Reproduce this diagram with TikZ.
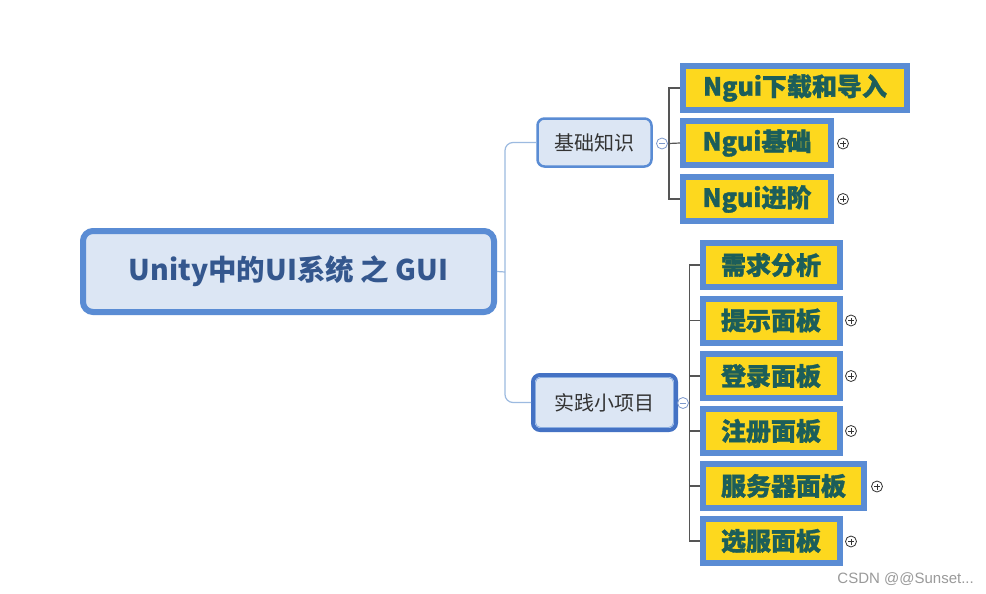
\documentclass[tikz,border=0pt]{standalone}
\usepackage{fontspec}
\newfontfamily\cjk{Noto Sans CJK SC}
\newfontfamily\cjkheavy{Noto Sans CJK SC}[BoldFeatures={FakeBold=1.3}]
\newfontfamily\wm{Liberation Sans}
\definecolor{rootfill}{HTML}{DCE6F4}
\definecolor{bdblue}{HTML}{5A8CD4}
\definecolor{dkblue}{HTML}{4472C4}
\definecolor{roottext}{HTML}{34578E}
\definecolor{darktext}{HTML}{333333}
\definecolor{leafyellow}{HTML}{FDD81E}
\definecolor{leaftext}{HTML}{1C5E5A}
\definecolor{linkblue}{HTML}{9CBAE0}
\definecolor{linkgray}{HTML}{555555}
\definecolor{minuscol}{HTML}{7C98CC}
\definecolor{wmgray}{HTML}{9A9A9A}
\begin{document}
\begin{tikzpicture}[x=1pt,y=-1pt,
  root/.style={draw=bdblue, fill=rootfill, line width=6pt, rounded corners=10pt,
    minimum width=411pt, minimum height=81pt, inner sep=0pt,
    font=\cjk\bfseries\fontsize{28.5}{34}\selectfont, text=roottext},
  topic/.style={draw=bdblue, fill=rootfill, line width=2.5pt, rounded corners=7pt,
    minimum height=48pt, inner sep=0pt,
    font=\cjk\fontsize{20}{24}\selectfont, text=darktext},
  leaf/.style={draw=bdblue, fill=leafyellow, line width=6pt, minimum height=44pt,
    inner sep=0pt, font=\cjkheavy\bfseries\fontsize{25}{30}\selectfont, text=leaftext,
    append after command={\pgfextra{\let\lastleaf\tikzlastnode}
      [draw=bdblue!45, line width=0.7pt]
      ([shift={(2.6pt,2.6pt)}]\tikzlastnode.south west) rectangle ([shift={(-2.6pt,-2.6pt)}]\tikzlastnode.north east)}},
  rootlink/.style={draw=linkblue, line width=1.2pt, rounded corners=8pt},
  leaflink/.style={draw=linkgray, line width=1.2pt},
  plusc/.style={circle, draw=darktext, line width=0.8pt, minimum size=11pt, inner sep=0pt,
    path picture={\draw[darktext, line width=0.8pt]
      ([xshift=-3pt]path picture bounding box.center) -- ([xshift=3pt]path picture bounding box.center)
      ([yshift=-3pt]path picture bounding box.center) -- ([yshift=3pt]path picture bounding box.center);}},
  minusc/.style={circle, draw=minuscol, line width=0.8pt, minimum size=11pt, inner sep=0pt,
    path picture={\draw[minuscol, line width=0.8pt]
      ([xshift=-3pt]path picture bounding box.center) -- ([xshift=3pt]path picture bounding box.center);}}
]
\useasboundingbox[fill=white] (0,0) rectangle (986,594);

% root
\node[root] (root) at (288.5,271.5) {Unity中的UI系统 之 GUI};

% topics
\node[topic, minimum width=114pt] (jc) at (594.5,142.5) {基础知识};
\node[topic, draw=dkblue, line width=4pt, minimum width=143pt, minimum height=55pt] (sj) at (604.5,402.5) {实践小项目};
\draw[bdblue!70, line width=0.8pt, rounded corners=5pt]
  ([shift={(4.5pt,4.5pt)}]sj.south west) rectangle ([shift={(-4.5pt,-4.5pt)}]sj.north east);

% root links
\coordinate (rj) at (505,272);
\draw[rootlink] (root.east) -- (rj);
\draw[rootlink] (rj) |- (jc.west);
\draw[rootlink] (rj) |- (sj.west);

% minus circles
\node[minusc] (m1) at (662,143.5) {};
\node[minusc] (m2) at (683,403) {};

% leaves of 基础知识
\node[leaf, minimum width=224pt] (n1) at (795,88) {Ngui下载和导入};
\node[leaf, minimum width=148pt] (n2) at (757,143) {Ngui基础};
\node[leaf, minimum width=148pt] (n3) at (757,199) {Ngui进阶};

\coordinate (v1) at (669,143.5);
\draw[leaflink] (m1.east) -- (v1);
\draw[leaflink] (v1) |- (n1.west);
\draw[leaflink] (v1) |- (n3.west);
\draw[leaflink] (v1) -- (n2.west);

% leaves of 实践小项目
\node[leaf, minimum width=137pt] (p1) at (771,265) {需求分析};
\node[leaf, minimum width=137pt] (p2) at (771,320.5) {提示面板};
\node[leaf, minimum width=137pt] (p3) at (771,376) {登录面板};
\node[leaf, minimum width=137pt] (p4) at (771,431) {注册面板};
\node[leaf, minimum width=161pt] (p5) at (783.5,486) {服务器面板};
\node[leaf, minimum width=137pt] (p6) at (771,541) {选服面板};

\coordinate (v2) at (689.5,403);
\draw[leaflink] (m2.east) -- (v2);
\draw[leaflink] (v2) |- (p1.west);
\draw[leaflink] (v2) |- (p6.west);
\foreach \p in {p2,p3,p4,p5} \draw[leaflink] (v2 |- \p.west) -- (\p.west);

% plus circles
\node[plusc] (c1) at (843,143.5) {};
\node[plusc] (c2) at (843,199) {};
\node[plusc] (c3) at (851,320.5) {};
\node[plusc] (c4) at (851,376) {};
\node[plusc] (c5) at (851,431) {};
\node[plusc] (c6) at (877,486.5) {};
\node[plusc] (c7) at (851,541.5) {};

% watermark
\node[anchor=east, text=wmgray, font=\wm\fontsize{15}{18}\selectfont, inner sep=0pt] (wm) at (974,579) {CSDN @@Sunset...};
\end{tikzpicture}
\end{document}
